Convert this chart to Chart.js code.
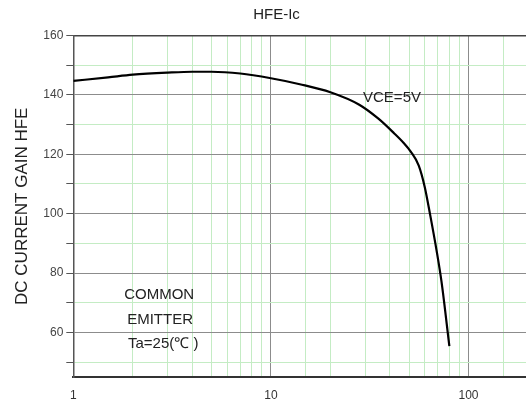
<!DOCTYPE html>
<html>
<head>
<meta charset="utf-8">
<script src="https://cdn.jsdelivr.net/npm/chart.js@4/dist/chart.umd.min.js"></script>
<style>
  html, body { margin: 0; padding: 0; background: #fff; overflow: hidden; }
  #wrap { width: 526px; height: 408px; overflow: hidden; }
  canvas { display: block; }
</style>
</head>
<body>
<div id="wrap"><canvas id="chart" width="539" height="408"></canvas></div>
<script>
// collector current Ic (log axis) and DC current gain
const icValues = [1, 1.5, 2, 3, 4, 5, 7, 10, 14, 20, 28, 35, 42, 47, 51, 56, 60, 64, 69, 73, 80];
const hfeValues = [144.7, 145.9, 146.8, 147.5, 147.8, 147.8, 147.2, 145.6, 143.6, 140.9, 136.7, 132.0, 127.1, 123.8, 120.9, 116.2, 109.1, 99.5, 87.4, 77.1, 55.4];
const xLabelTicks = [1, 10, 100];
const yLabelTicks = [60, 80, 100, 120, 140, 160];

const notes = [
  { text: 'VCE=5V', x: 41, y: 138.9 },
  { text: 'COMMON', x: 2.72, y: 72.6 },
  { text: 'EMITTER', x: 2.75, y: 64.2 },
  { text: 'Ta=25(\u2103 )', x: 2.85, y: 56.1 }
];

const FONT = '"Liberation Sans", Arial, sans-serif';
const MAJOR = '#8c8c8c';
const MINOR = '#c4ecc4';

const notesPlugin = {
  id: 'notes',
  afterDatasetsDraw(chart) {
    const { ctx, scales } = chart;
    ctx.save();
    ctx.font = `15px ${FONT}`;
    ctx.fillStyle = '#222';
    ctx.textAlign = 'center';
    ctx.textBaseline = 'middle';
    notes.forEach((n) => {
      ctx.fillText(n.text, scales.x.getPixelForValue(n.x), scales.y.getPixelForValue(n.y));
    });
    ctx.restore();
  }
};

new Chart(document.getElementById('chart'), {
  type: 'line',
  data: {
    datasets: [{
      data: icValues.map((x, i) => ({ x, y: hfeValues[i] })),
      borderColor: '#000',
      borderWidth: 2.2,
      pointRadius: 0,
      cubicInterpolationMode: 'monotone',
      fill: false
    }]
  },
  options: {
    responsive: false,
    animation: false,
    layout: { padding: { left: 14, right: 0, top: 0, bottom: 0 } },
    plugins: {
      legend: { display: false },
      tooltip: { enabled: false },
      title: {
        display: true,
        text: 'HFE-Ic',
        color: '#222',
        font: { family: FONT, size: 15, weight: 'normal' },
        padding: { top: 6, bottom: 0 }
      }
    },
    scales: {
      x: {
        type: 'logarithmic',
        position: 'bottom',
        min: 1,
        max: 200,
        afterFit(scale) { scale.height = 31; },
        border: { display: true, color: '#333', width: 2 },
        grid: {
          drawTicks: false,
          color: (c) => (xLabelTicks.includes(c.tick.value) ? MAJOR : MINOR),
          lineWidth: 1
        },
        ticks: {
          autoSkip: false,
          maxRotation: 0,
          padding: 11,
          color: '#333',
          font: { family: FONT, size: 12 },
          major: { enabled: false },
          callback: (v) => (xLabelTicks.includes(v) ? String(v) : '')
        }
      },
      x2: {
        type: 'logarithmic',
        position: 'top',
        min: 1,
        max: 200,
        afterFit(scale) { scale.height = 11.5; },
        border: { display: true, color: '#444', width: 1.5 },
        grid: { drawOnChartArea: false, drawTicks: false },
        ticks: { display: false }
      },
      y: {
        type: 'linear',
        min: 45,
        max: 160,
        afterFit(scale) { scale.width = 59.3; },
        border: { display: true, color: '#555', width: 1.5 },
        grid: {
          color: (c) => (c.tick.value === 45 ? 'rgba(0,0,0,0)' : c.tick.value % 20 === 0 ? MAJOR : MINOR),
          tickColor: (c) => (c.tick.value === 45 ? 'rgba(0,0,0,0)' : '#555'),
          tickLength: 7,
          lineWidth: 1
        },
        ticks: {
          stepSize: 10,
          padding: 3,
          color: '#444',
          font: { family: FONT, size: 12 },
          callback: (v) => (yLabelTicks.includes(v) ? String(v) : '')
        },
        title: {
          display: true,
          text: 'DC CURRENT GAIN HFE',
          color: '#222',
          font: { family: FONT, size: 17 },
          padding: { top: -2, bottom: 0 }
        }
      }
    }
  },
  plugins: [notesPlugin]
});
</script>
</body>
</html>
